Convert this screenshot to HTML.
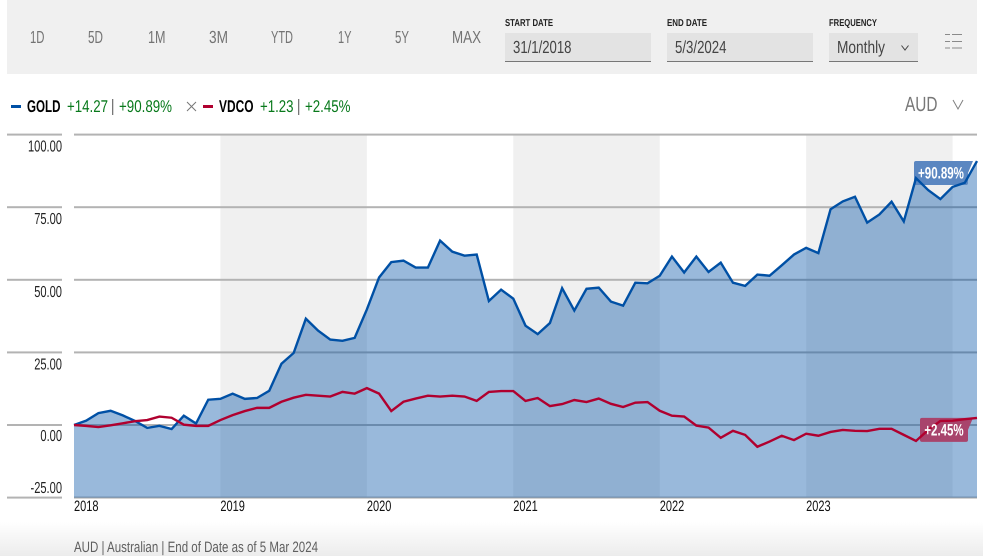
<!DOCTYPE html>
<html lang="en">
<head>
<meta charset="utf-8">
<title>GOLD vs VDCO performance chart</title>
<style>
html,body{margin:0;padding:0;background:#fff;width:983px;height:556px;overflow:hidden}
svg{display:block;position:absolute;left:0;top:0}
text{font-family:"Liberation Sans",sans-serif;text-rendering:geometricPrecision}
.tab{font-size:17.5px;fill:#737373}
.fl{font-size:10px;font-weight:bold;fill:#222}
.val{font-size:17.5px;fill:#444}
.leg{font-size:17px}
.g{fill:#08791b}
.b{font-weight:bold;fill:#000}
</style>
</head>
<body>
<svg width="983" height="556" viewBox="0 0 983 556">
  <defs>
    <linearGradient id="fade" x1="0" y1="0" x2="0" y2="1">
      <stop offset="0" stop-color="#ffffff"/>
      <stop offset="1" stop-color="#ececec"/>
    </linearGradient>
  </defs>
  <rect x="0" y="522" width="983" height="34" fill="url(#fade)"/>

  <rect x="7" y="0" width="970" height="74" fill="#f0f0f0"/>
  <text class="tab" x="30" y="43" textLength="14.5" lengthAdjust="spacingAndGlyphs">1D</text>
  <text class="tab" x="88" y="43" textLength="15" lengthAdjust="spacingAndGlyphs">5D</text>
  <text class="tab" x="148" y="43" textLength="17.5" lengthAdjust="spacingAndGlyphs">1M</text>
  <text class="tab" x="209" y="43" textLength="19" lengthAdjust="spacingAndGlyphs">3M</text>
  <text class="tab" x="271" y="43" textLength="22" lengthAdjust="spacingAndGlyphs">YTD</text>
  <text class="tab" x="338" y="43" textLength="13.5" lengthAdjust="spacingAndGlyphs">1Y</text>
  <text class="tab" x="395" y="43" textLength="14" lengthAdjust="spacingAndGlyphs">5Y</text>
  <text class="tab" x="452" y="43" textLength="29" lengthAdjust="spacingAndGlyphs">MAX</text>

  <text class="fl" x="505" y="26" textLength="48" lengthAdjust="spacingAndGlyphs">START DATE</text>
  <rect x="505" y="33" width="146" height="29" fill="#e3e3e3"/>
  <rect x="505" y="61" width="146" height="1" fill="#777"/>
  <text class="val" x="513" y="53" textLength="58.5" lengthAdjust="spacingAndGlyphs">31/1/2018</text>

  <text class="fl" x="667" y="26" textLength="40" lengthAdjust="spacingAndGlyphs">END DATE</text>
  <rect x="667" y="33" width="146" height="29" fill="#e3e3e3"/>
  <rect x="667" y="61" width="146" height="1" fill="#777"/>
  <text class="val" x="675" y="53" textLength="51.5" lengthAdjust="spacingAndGlyphs">5/3/2024</text>

  <text class="fl" x="829" y="26" textLength="48" lengthAdjust="spacingAndGlyphs">FREQUENCY</text>
  <rect x="829" y="33" width="89" height="29" fill="#e3e3e3"/>
  <rect x="829" y="61" width="89" height="1" fill="#777"/>
  <text class="val" x="837" y="53" textLength="48" lengthAdjust="spacingAndGlyphs">Monthly</text>
  <path d="M901.5 45.5L905 50L908.500 45.500" fill="none" stroke="#444" stroke-width="1"/>

  <g stroke="#8a8a8a" stroke-width="1">
    <path d="M945 34.500h5M952 34.500h10M945 41.500h5M952 41.500h10M945 48h5M952 48h10"/>
  </g>

  <rect x="11" y="105" width="10" height="3" fill="#0050a5"/>
  <text class="leg b" x="27" y="112" textLength="33.500" lengthAdjust="spacingAndGlyphs">GOLD</text>
  <text class="leg g" x="67" y="112" textLength="41" lengthAdjust="spacingAndGlyphs">+14.27</text>
  <rect x="112" y="99" width="1.300" height="16" fill="#777"/>
  <text class="leg g" x="119" y="112" textLength="53" lengthAdjust="spacingAndGlyphs">+90.89%</text>
  <path d="M187 102L196 111M196 102L187 111" stroke="#777" stroke-width="1" fill="none"/>
  <rect x="203" y="105" width="10" height="3" fill="#b0002f"/>
  <text class="leg b" x="219" y="112" textLength="34.500" lengthAdjust="spacingAndGlyphs">VDCO</text>
  <text class="leg g" x="260" y="112" textLength="33.500" lengthAdjust="spacingAndGlyphs">+1.23</text>
  <rect x="298" y="99" width="1.300" height="16" fill="#777"/>
  <text class="leg g" x="305" y="112" textLength="45.500" lengthAdjust="spacingAndGlyphs">+2.45%</text>

  <text x="905" y="111" font-size="20.500" fill="#777" textLength="32.500" lengthAdjust="spacingAndGlyphs">AUD</text>
  <path d="M953 100L958 109L963 100" fill="none" stroke="#808080" stroke-width="1"/>

  <g id="chart"></g>

  <text x="74" y="552" font-size="15" fill="#5f5f5f" textLength="244" lengthAdjust="spacingAndGlyphs">AUD | Australian | End of Date as of 5 Mar 2024</text>
</svg>

<script>
var yTicks = [100, 75, 50, 25, 0, -25];
var yearLabels = ["2018", "2019", "2020", "2021", "2022", "2023"];
var shadedYears = ["2019", "2021", "2023"];
var goldValues = [0,1.5,4.1,4.9,3.3,1.4,-1,-0.3,-1.4,3.2,0.5,8.7,9,10.8,9,9.3,11.8,21.1,24.8,36.6,32.5,29.4,29,30,39.8,50.8,56.1,56.6,54.2,54.2,63.5,59.7,58.3,58.7,42.7,46.6,43.5,34.2,31.3,35.1,47.1,39.4,46.9,47.3,42.5,41.1,49,48.8,51.4,58,52.5,58,52.7,55.9,49,47.9,51.8,51.4,55,58.7,61,59.2,74.3,77,78.6,69.7,72.5,76.9,70.1,85,80.9,77.8,82,83.4,90.89];
var vdcoValues = [0,-0.3,-0.7,-0.1,0.6,1.3,1.7,2.9,2.5,0.1,-0.3,-0.3,1.7,3.4,4.8,5.9,5.9,8,9.4,10.4,10.1,9.8,11.4,10.8,12.7,10.8,4.8,8,9.1,10.1,9.8,10.1,9.800,8.3,11.4,11.7,11.7,8.3,9.3,6.5,7.2,8.6,7.9,9.1,7.3,6.2,7.7,7.9,4.9,3.2,2.9,-0.2,-0.9,-4.4,-2,-3.4,-7.5,-5.7,-3.7,-5.2,-3,-3.7,-2.4,-1.7,-2,-2.1,-1.3,-1.3,-3.4,-5.5,-1.7,1.4,1.5,2,2.45];
var goldEndLabel = "+90.89%";
var vdcoEndLabel = "+2.45%";

var NS = "http://www.w3.org/2000/svg";
var chart = document.getElementById("chart");
var plotLeft = 74, plotRight = 977, y0px = 425, unitPx = 2.904;
var monthsPerYear = 12;

function xAt(i) { return plotLeft + i * (plotRight - plotLeft) / (goldValues.length - 1); }
function yAt(v) { return y0px - v * unitPx; }
function make(tag, attrs) {
  var el = document.createElementNS(NS, tag);
  for (var k in attrs) { el.setAttribute(k, attrs[k]); }
  chart.appendChild(el);
  return el;
}
function linePoints(values) {
  return values.map(function (v, i) { return xAt(i).toFixed(2) + "," + yAt(v).toFixed(2); }).join(" ");
}

shadedYears.forEach(function (yr) {
  var idx = yearLabels.indexOf(yr) * monthsPerYear;
  var band = make("rect", { x: xAt(idx), y: 135, width: xAt(idx + monthsPerYear) - xAt(idx), height: 362.500, fill: "#f0f0f0" });
  
  
});

yTicks.forEach(function (t) {
  var tickMark = make("rect", { x: 7, y: yAt(t) - 1, width: 55, height: 2, fill: "#b3b3b3" });
  
  
  var grid = make("rect", { x: plotLeft, y: yAt(t) - 1, width: plotRight - plotLeft, height: 2, fill: "#b3b3b3" });
  
  
  var label = make("text", { x: 62, y: t < 0 ? yAt(t) - 4.500 : yAt(t) + (t > 0 ? 17 : 16), "text-anchor": "end", "font-size": 16, fill: "#222" });
  label.textContent = t.toFixed(2);
  
  
  label.setAttribute("textLength", (label.getComputedTextLength() * 0.695).toFixed(1));
  label.setAttribute("lengthAdjust", "spacingAndGlyphs");
});

yearLabels.forEach(function (yr, n) {
  var label = make("text", { x: xAt(n * monthsPerYear), y: 511, "font-size": 15, fill: "#111" });
  label.textContent = yr;
  
  
  label.setAttribute("textLength", "24.500");
  label.setAttribute("lengthAdjust", "spacingAndGlyphs");
});

var area = make("polygon", {
  points: xAt(0) + "," + yAt(yTicks[yTicks.length - 1]) + " " + linePoints(goldValues) + " " + xAt(goldValues.length - 1) + "," + yAt(yTicks[yTicks.length - 1]),
  fill: "#0050a5", "fill-opacity": 0.4
});



function endBadge(values, fill, width, name) {
  var last = values.length - 1;
  var cx = xAt(last) - 9 - width;
  var cy = yAt(values[last]);
  var right = cx + width;
  var d = "M" + (cx + 2) + " " + cy + "H" + (right + 5) + "L" + right + " " + (cy + 12) + "V" + (cy + 22) +
          "Q" + right + " " + (cy + 24) + " " + (right - 2) + " " + (cy + 24) + "H" + (cx + 2) +
          "Q" + cx + " " + (cy + 24) + " " + cx + " " + (cy + 22) + "V" + (cy + 2) + "Q" + cx + " " + cy + " " + (cx + 2) + " " + cy + "Z";
  var badge = make("path", { d: d, fill: fill });
  
  
}
function endLabel(values, width, name, text) {
  var last = values.length - 1;
  var cx = xAt(last) - 9 - width;
  var cy = yAt(values[last]);
  var label = make("text", { x: cx + width / 2, y: cy + 17.500, "text-anchor": "middle", "font-size": 16.500, "font-weight": "bold", fill: "#fff" });
  label.textContent = text;
  
  
  label.setAttribute("textLength", (text.length * 6.550).toFixed(1));
  label.setAttribute("lengthAdjust", "spacingAndGlyphs");
}
endBadge(goldValues, "#5b87c1", 54, "gold");
endBadge(vdcoValues, "#a8446c", 48, "vdco");

var goldLine = make("polyline", { points: linePoints(goldValues), fill: "none", stroke: "#0050a5", "stroke-width": 2.400, "stroke-linejoin": "miter" });


var vdcoLine = make("polyline", { points: linePoints(vdcoValues), fill: "none", stroke: "#b0002f", "stroke-width": 2.400, "stroke-linejoin": "miter" });



endLabel(goldValues, 54, "gold", goldEndLabel);
endLabel(vdcoValues, 48, "vdco", vdcoEndLabel);
</script>
</body>
</html>
